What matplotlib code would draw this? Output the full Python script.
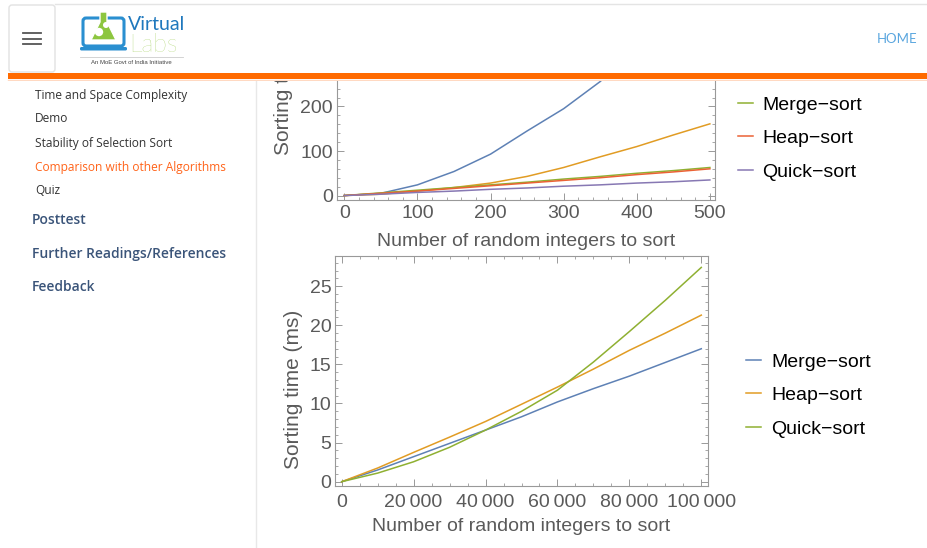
import matplotlib
matplotlib.use("Agg")
import matplotlib.pyplot as plt
from matplotlib.patches import Rectangle, FancyBboxPatch, Polygon, Circle
from matplotlib.ticker import MultipleLocator, FuncFormatter

W, H = 927, 548

# ---- data: top chart (small inputs, partly hidden under the page header)
small_n = [0, 50, 100, 150, 200, 250, 300, 350, 400, 450, 500]
small_blue = [0, 5, 24, 54, 93, 145, 195, 256, 335, 430, 540]
small_orange = [0, 3, 10, 18, 28, 43, 63, 87, 110, 136, 161]
small_merge = [0, 6, 12, 18, 24, 30, 37, 43, 50, 56, 63]
small_heap = [0, 5, 10, 16, 22, 28, 34, 40, 47, 53, 60]
small_quick = [0, 3, 7, 10, 14, 17, 21, 24, 28, 31, 35]

# ---- data: bottom chart (large inputs)
large_n = [0, 10000, 20000, 30000, 40000, 50000, 60000, 70000, 80000, 90000, 100000]
large_merge = [0, 1.5, 3.2, 4.9, 6.6, 8.3, 10.2, 11.9, 13.5, 15.25, 17.0]
large_heap = [0, 1.75, 3.75, 5.7, 7.7, 9.9, 12.1, 14.4, 16.8, 19.0, 21.3]
large_quick = [0, 1.1, 2.55, 4.4, 6.6, 9.0, 11.7, 15.3, 19.2, 23.2, 27.4]

algo_labels = ["Merge\u2212sort", "Heap\u2212sort", "Quick\u2212sort"]

menu_items = ["Time and Space Complexity", "Demo", "Stability of Selection Sort",
              "Comparison with other Algorithms", "Quiz"]
menu_sections = ["Posttest", "Further Readings/References", "Feedback"]

BLUE, ORANGE, GREEN, RED, PURPLE = "#5E81B5", "#E19C24", "#8FB032", "#EB6235", "#8778B3"
FRAME = "#999999"
TICKLBL = "#5a5a5a"
FS = 14

plt.rcParams["font.family"] = ["Liberation Sans", "DejaVu Sans"]

fig = plt.figure(figsize=(W / 100, H / 100), dpi=100)
fig.patch.set_facecolor("white")


def px_box(x0, y0, x1, y1):
    # pixel box (y down) -> figure fraction [left, bottom, width, height]
    return [x0 / W, 1 - y1 / H, (x1 - x0) / W, (y1 - y0) / H]


def style_axes(ax):
    for s in ax.spines.values():
        s.set_color(FRAME)
        s.set_linewidth(0.8)
    ax.set_facecolor("none")
    ax.tick_params(which="both", direction="in", top=True, right=True,
                   color=FRAME, labelcolor=TICKLBL, labelsize=FS)
    ax.tick_params(which="major", length=5, width=0.7)
    ax.tick_params(which="minor", length=2.5, width=0.6)


# ---- page / sidebar
page = fig.add_axes([0, 0, 1, 1], zorder=0)
page.set_xlim(0, W)
page.set_ylim(H, 0)
page.axis("off")
page.plot([256, 256], [80, H], color="#e8e8e8", lw=1)

menu_y = [95, 119, 143, 167, 191]
for txt, y in zip(menu_items, menu_y):
    col = "#ff6319" if txt.startswith("Comparison") else "#333333"
    page.text(35, y, txt, fontsize=8.6, family="Open Sans", color=col, va="center")
for txt, y in zip(menu_sections, [220, 254, 287]):
    page.text(32, y, txt, fontsize=10, family="Open Sans", color="#3a5479",
              va="center", weight="semibold")

# ---- top chart
ax1 = fig.add_axes(px_box(337, -69, 715, 200), zorder=1)
style_axes(ax1)
ax1.plot(small_n, small_blue, color=BLUE, lw=1.1)
ax1.plot(small_n, small_orange, color=ORANGE, lw=1.1)
l_m, = ax1.plot(small_n, small_merge, color=GREEN, lw=1.1)
l_h, = ax1.plot(small_n, small_heap, color=RED, lw=1.1)
l_q, = ax1.plot(small_n, small_quick, color=PURPLE, lw=1.1)
ax1.set_xlim(-10, 507)
ax1.set_ylim(-10, 594)
ax1.xaxis.set_major_locator(MultipleLocator(100))
ax1.xaxis.set_minor_locator(MultipleLocator(20))
ax1.yaxis.set_major_locator(MultipleLocator(100))
ax1.yaxis.set_minor_locator(MultipleLocator(20))
ax1.tick_params(axis="x", pad=3.5)
ax1.tick_params(axis="y", pad=3)
ax1.set_xlabel("Number of random integers to sort", fontsize=FS, color=TICKLBL)
ax1.set_ylabel("Sorting time (ms)", fontsize=15, color=TICKLBL)
ax1.xaxis.set_label_coords(0.5, -0.123)
ax1.yaxis.set_label_coords(-0.116, 0.465)
ax1.legend([l_m, l_h, l_q], algo_labels, loc="upper left",
           bbox_to_anchor=(738 / W, 1 - 96 / H), bbox_transform=fig.transFigure,
           frameon=False, fontsize=14, handlelength=0.75, handletextpad=0.5,
           labelspacing=0.82, borderpad=0, borderaxespad=0)

# ---- bottom chart
ax2 = fig.add_axes(px_box(335, 256, 708, 486), zorder=1)
style_axes(ax2)
b_m, = ax2.plot(large_n, large_merge, color=BLUE, lw=1.1)
b_h, = ax2.plot(large_n, large_heap, color=ORANGE, lw=1.1)
b_q, = ax2.plot(large_n, large_quick, color=GREEN, lw=1.1)
ax2.set_xlim(-1865, 101865)
ax2.set_ylim(-0.55, 28.86)
ax2.xaxis.set_major_locator(MultipleLocator(20000))
ax2.xaxis.set_minor_locator(MultipleLocator(5000))
ax2.yaxis.set_major_locator(MultipleLocator(5))
ax2.yaxis.set_minor_locator(MultipleLocator(1))
ax2.xaxis.set_major_formatter(FuncFormatter(lambda v, p: f"{int(round(v)):,}".replace(",", "\u2009")))
ax2.tick_params(axis="x", pad=6)
ax2.tick_params(axis="y", pad=2.5)
ax2.set_xlabel("Number of random integers to sort", fontsize=FS, color=TICKLBL)
ax2.set_ylabel("Sorting time (ms)", fontsize=15, color=TICKLBL)
ax2.xaxis.set_label_coords(0.5, -0.141)
ax2.yaxis.set_label_coords(-0.086, 0.42)
ax2.legend([b_m, b_h, b_q], algo_labels, loc="upper left",
           bbox_to_anchor=(746 / W, 1 - 353 / H), bbox_transform=fig.transFigure,
           frameon=False, fontsize=14, handlelength=0.75, handletextpad=0.55,
           labelspacing=0.82, borderpad=0, borderaxespad=0)

# ---- page header (drawn over the top chart)
hd = fig.add_axes(px_box(0, 0, W, 81), zorder=10)
hd.set_xlim(0, W)
hd.set_ylim(81, 0)
hd.axis("off")
hd.add_patch(Rectangle((0, 0), W, 81, facecolor="white", edgecolor="none"))
hd.plot([55, W], [4, 4], color="#e4e4e4", lw=1)
hd.add_patch(FancyBboxPatch((9, 5), 46, 67, boxstyle="round,pad=0,rounding_size=3",
                            facecolor="white", edgecolor="#e2e2e2", lw=1))
for y in (33, 38.5, 44):
    hd.plot([23, 41], [y, y], color="#555555", lw=1.3)
hd.add_patch(Rectangle((8, 73), W - 8, 6, facecolor="#ff6a00", edgecolor="none"))
hd.plot([8, W], [80, 80], color="#ffd9c2", lw=1)

# logo
hd.add_patch(FancyBboxPatch((83, 18), 41, 28, boxstyle="round,pad=0,rounding_size=3",
                            facecolor="none", edgecolor="#2a8fd0", lw=2.2))
hd.add_patch(FancyBboxPatch((80, 47), 47, 3.5, boxstyle="round,pad=0,rounding_size=1.5",
                            facecolor="#2a8fd0", edgecolor="none"))
hd.add_patch(Polygon([(100, 12), (107, 12), (107, 22), (116, 40), (91, 40), (100, 22)],
                     closed=True, facecolor="#8dc63f", edgecolor="white", lw=1))
hd.add_patch(Circle((99, 32), 4.2, facecolor="white", edgecolor="none"))
hd.add_patch(Circle((106, 25), 3.0, facecolor="white", edgecolor="none"))
hd.text(128, 25, "Virtual", fontsize=14, family="Lato", color="#1f78bd", va="center")
hd.text(129, 45, "Labs", fontsize=18, family="Lato", weight="light", color="#9ccc52", va="center")
hd.plot([80, 183], [57, 57], color="#cccccc", lw=0.6)
hd.text(131, 62, "An MoE Govt of India Initiative", fontsize=4.3, family="Liberation Sans",
        color="#444444", ha="center", va="center")
hd.text(897, 39, "HOME", fontsize=9.5, family="Lato", color="#5aa6df", ha="center", va="center")

fig.savefig("out.png", dpi=100, facecolor="white")
